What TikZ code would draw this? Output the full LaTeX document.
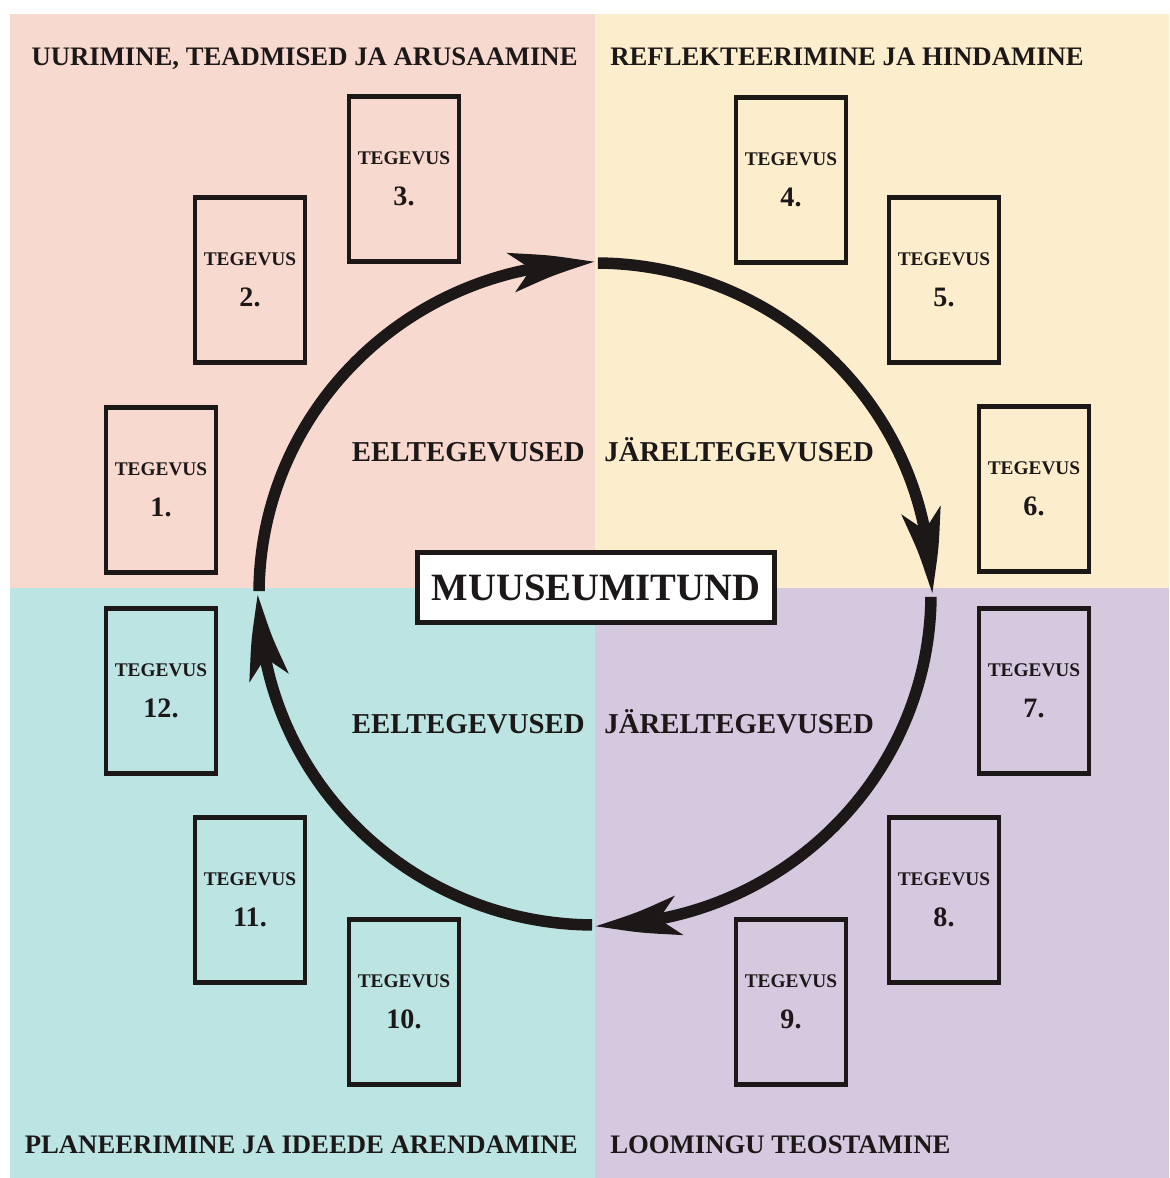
\documentclass[tikz,border=0pt]{standalone}
\usepackage{fontspec}
\setmainfont{Liberation Serif}
\usetikzlibrary{arrows.meta,bending}
\definecolor{ink}{RGB}{28,24,24}
\definecolor{rosebg}{RGB}{248,217,207}
\definecolor{sandbg}{RGB}{252,237,205}
\definecolor{aquabg}{RGB}{188,228,227}
\definecolor{lilacbg}{RGB}{212,201,223}
\tikzset{
  tegevus/.style={draw=ink, line width=2.3pt, minimum width=2.2cm, minimum height=3.3cm, inner sep=0pt, align=center, text=ink, font=\bfseries\fontsize{11}{13}\selectfont},
  stage/.style={inner sep=0pt, text=ink, font=\bfseries\fontsize{15.2}{18}\selectfont},
  phase/.style={inner sep=0pt, text=ink, font=\bfseries\fontsize{16.4}{19}\selectfont},
  ring/.style={draw=ink, line width=0.23cm, -{Stealth[length=1.7cm, width=0.78cm, inset=0.4cm, bend]}}
}

\begin{document}
\begin{tikzpicture}
\useasboundingbox (-11.9,-11.68) rectangle (11.48,11.88);
% background quarters
\fill[rosebg] (-11.7,0.12) rectangle (0,11.6);
\fill[sandbg] (0,0.12) rectangle (11.48,11.6);
\fill[aquabg] (-11.7,-11.68) rectangle (0,0.12);
\fill[lilacbg] (0,-11.68) rectangle (11.48,0.12);

\node[stage, anchor=base east] (uurimine) at (-0.34,10.56) {UURIMINE, TEADMISED JA ARUSAAMINE};
\node[stage, anchor=base west] (reflekt) at (0.3,10.56) {REFLEKTEERIMINE JA HINDAMINE};
\node[stage, anchor=base east] (planeer) at (-0.34,-11.18) {PLANEERIMINE JA IDEEDE ARENDAMINE};
\node[stage, anchor=base west] (looming) at (0.3,-11.18) {LOOMINGU TEOSTAMINE};

% ring
\coordinate (ring-w) at (179.5:6.72 and 6.62);
\coordinate (ring-n) at (89.5:6.72 and 6.62);
\coordinate (ring-e) at (-0.5:6.72 and 6.62);
\coordinate (ring-s) at (-90.5:6.72 and 6.62);
\draw[ring] (ring-w) arc[start angle=179.5, end angle=90, x radius=6.72, y radius=6.62];
\draw[ring] (ring-n) arc[start angle=89.5, end angle=0, x radius=6.72, y radius=6.62];
\draw[ring] (ring-e) arc[start angle=-0.5, end angle=-90, x radius=6.72, y radius=6.62];
\draw[ring] (ring-s) arc[start angle=-90.5, end angle=-180, x radius=6.72, y radius=6.62];

\node[draw=ink, line width=2.8pt, fill=white, minimum width=7.14cm, minimum height=1.4cm, inner sep=0pt, text=ink, font=\bfseries\fontsize{22}{26}\selectfont] (tund) at (0.02,0.13) {MUUSEUMITUND};

\node[phase, anchor=base east] (eel-1) at (-0.2,2.64) {EELTEGEVUSED};
\node[phase, anchor=base west] (jarel-1) at (0.18,2.64) {JÄRELTEGEVUSED};
\node[phase, anchor=base east] (eel-2) at (-0.2,-2.78) {EELTEGEVUSED};
\node[phase, anchor=base west] (jarel-2) at (0.18,-2.78) {JÄRELTEGEVUSED};

% activities
\node[tegevus] (t1) at (-8.68,2.08) {TEGEVUS\\[10pt]\fontsize{16}{16}\selectfont 1.};
\node[tegevus] (t2) at (-6.9,6.28) {TEGEVUS\\[10pt]\fontsize{16}{16}\selectfont 2.};
\node[tegevus] (t3) at (-3.82,8.3) {TEGEVUS\\[10pt]\fontsize{16}{16}\selectfont 3.};
\node[tegevus] (t4) at (3.92,8.28) {TEGEVUS\\[10pt]\fontsize{16}{16}\selectfont 4.};
\node[tegevus] (t5) at (6.98,6.28) {TEGEVUS\\[10pt]\fontsize{16}{16}\selectfont 5.};
\node[tegevus] (t6) at (8.78,2.1) {TEGEVUS\\[10pt]\fontsize{16}{16}\selectfont 6.};
\node[tegevus] (t7) at (8.78,-1.94) {TEGEVUS\\[10pt]\fontsize{16}{16}\selectfont 7.};
\node[tegevus] (t8) at (6.98,-6.12) {TEGEVUS\\[10pt]\fontsize{16}{16}\selectfont 8.};
\node[tegevus] (t9) at (3.92,-8.16) {TEGEVUS\\[10pt]\fontsize{16}{16}\selectfont 9.};
\node[tegevus] (t10) at (-3.82,-8.16) {TEGEVUS\\[10pt]\fontsize{16}{16}\selectfont 10.};
\node[tegevus] (t11) at (-6.9,-6.12) {TEGEVUS\\[10pt]\fontsize{16}{16}\selectfont 11.};
\node[tegevus] (t12) at (-8.68,-1.94) {TEGEVUS\\[10pt]\fontsize{16}{16}\selectfont 12.};
\end{tikzpicture}
\end{document}
